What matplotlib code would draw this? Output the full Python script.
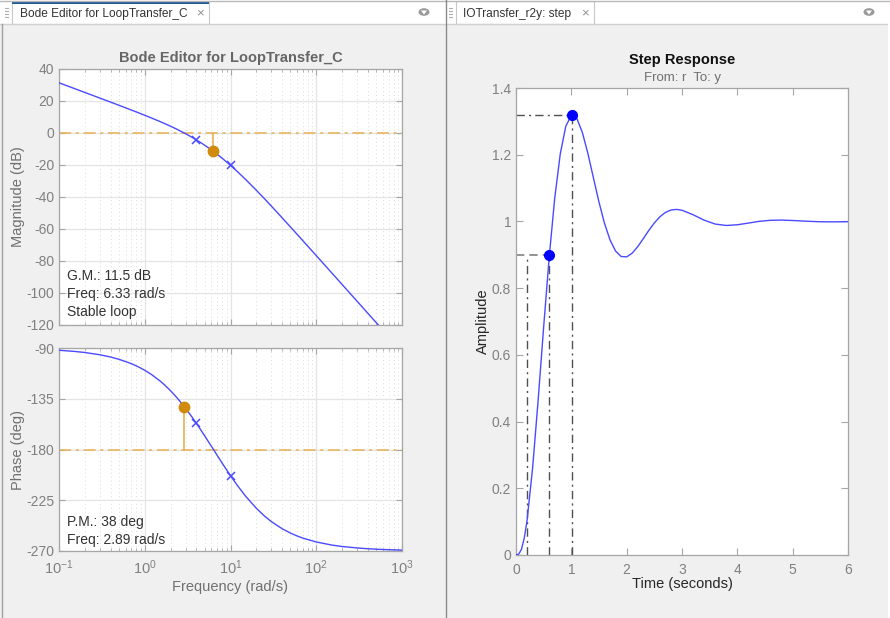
import matplotlib
matplotlib.use("Agg")
import matplotlib.pyplot as plt
from matplotlib.patches import Rectangle, Circle, Polygon
from matplotlib.lines import Line2D

plt.rcParams['font.family'] = ['Liberation Sans', 'DejaVu Sans']
plt.rcParams['axes.unicode_minus'] = False
plt.rcParams['mathtext.fontset'] = 'custom'
plt.rcParams['mathtext.rm'] = 'Liberation Sans'
plt.rcParams['mathtext.it'] = 'Liberation Sans'

# ---------------- data ----------------
bode_freq = [0.1, 0.15, 0.2, 0.3, 0.4, 0.5, 0.7, 0.85, 1, 1.2, 1.5, 1.7, 2, 2.4, 2.89, 3,
             3.5, 4, 4.5, 5, 6, 6.33, 7, 8, 9, 10, 12, 15, 20, 25, 30, 40, 50, 60, 70, 100,
             150, 200, 300, 400, 500, 550, 700, 1000]
bode_mag = [31.38, 27.86, 25.35, 21.82, 19.30, 17.33, 14.33, 12.58, 11.08, 9.37, 7.20, 5.93,
            4.23, 2.21, 0.0, -0.47, -2.46, -4.31, -6.03, -7.65, -10.63, -11.55, -13.34,
            -15.81, -18.10, -20.20, -24.07, -29.03, -35.77, -41.17, -45.71, -53.0, -58.71,
            -63.40, -67.38, -76.62, -87.16, -94.65, -105.2, -112.7, -118.5, -121.0, -127.3,
            -136.6]
bode_phase = [-92.0, -93.0, -94.0, -96.0, -98.0, -100.0, -103.9, -106.86, -109.75, -113.54,
              -119.1, -122.68, -127.9, -134.46, -142.0, -143.57, -150.48, -156.8, -162.6,
              -167.9, -177.27, -180.0, -185.25, -192.1, -198.03, -203.2, -211.76, -221.4,
              -232.1, -239.11, -243.98, -250.25, -254.1, -256.73, -258.6, -262.0, -264.66,
              -266.0, -267.3, -268.0, -268.4, -268.54, -268.85, -269.2]
pole_freq = [4, 10]
pole_mag = [-4.31, -20.2]
pole_phase = [-156.8, -203.2]
gm_freq, gm_mag = 6.33, -11.5
pm_freq, pm_phase = 2.89, -142.0
gm_text = ["G.M.: 11.5 dB", "Freq: 6.33 rad/s", "Stable loop"]
pm_text = ["P.M.: 38 deg", "Freq: 2.89 rad/s"]

step_t = [0, 0.05, 0.1, 0.15, 0.2, 0.3, 0.4, 0.5, 0.6, 0.7, 0.8, 0.9, 1.0, 1.1, 1.2, 1.3,
          1.4, 1.5, 1.6, 1.7, 1.8, 1.9, 2.0, 2.1, 2.2, 2.3, 2.4, 2.5, 2.6, 2.7, 2.8, 2.9,
          3.0, 3.2, 3.4, 3.6, 3.8, 4.0, 4.2, 4.4, 4.6, 4.8, 5.0, 5.25, 5.5, 5.75, 6.0]
step_y = [0, 0.0027, 0.0177, 0.0510, 0.1037, 0.2606, 0.4638, 0.6838, 0.8927, 1.0700,
          1.2024, 1.2854, 1.3180, 1.3087, 1.2663, 1.2032, 1.1300, 1.0578, 0.9940, 0.9442,
          0.9111, 0.8949, 0.8938, 0.9049, 0.9244, 0.9482, 0.9730, 0.9955, 1.0139, 1.0269,
          1.0342, 1.0361, 1.0335, 1.0201, 1.0038, 0.9921, 0.9879, 0.9899, 0.9951, 1.0003,
          1.0034, 1.0040, 1.0028, 1.0006, 0.9990, 0.9987, 0.9992]
peak_t, peak_y = 1.02, 1.32
rise_t0, rise_t1, rise_y = 0.197, 0.604, 0.9

W, H = 890, 618
fig = plt.figure(figsize=(W / 100, H / 100), dpi=100, facecolor='#f0f0f0')


def fx(px):
    return px / W


def fy(py):
    return 1 - py / H


def rect(x0, y0, x1, y1, fc, ec='none', lw=0, z=0):
    fig.patches.append(Rectangle((fx(x0), fy(y1)), fx(x1 - x0), (y1 - y0) / H,
                                 transform=fig.transFigure, facecolor=fc, edgecolor=ec,
                                 linewidth=lw, zorder=z))


def hline(x0, x1, y, c, lw=1):
    fig.add_artist(Line2D([fx(x0), fx(x1)], [fy(y), fy(y)], color=c, lw=lw,
                          transform=fig.transFigure))


def vline(x, y0, y1, c, lw=1):
    fig.add_artist(Line2D([fx(x), fx(x)], [fy(y0), fy(y1)], color=c, lw=lw,
                          transform=fig.transFigure))


# ---------------- window chrome ----------------
rect(0, 0, 890, 24, 'white')
hline(0, 890, 0.8, '#b8b8b8')
hline(0, 890, 23.5, '#d0d0d0')
# left tab
rect(12, 1, 209, 24, 'white', ec='#c8c8c8', lw=0.8)
rect(12, 0.5, 209, 3.5, '#1f5a96')
fig.text(fx(20), fy(13.5), "Bode Editor for LoopTransfer_C", fontsize=8.6, color='#333333',
         va='center', ha='left')
fig.text(fx(200), fy(13.5), "×", fontsize=9.5, color='#909090', va='center', ha='center')
# right tab
rect(456, 1, 594, 24, 'white', ec='#c8c8c8', lw=0.8)
fig.text(fx(463), fy(13.5), "IOTransfer_r2y: step", fontsize=8.6, color='#333333',
         va='center', ha='left')
fig.text(fx(585), fy(13.5), "×", fontsize=9.5, color='#909090', va='center', ha='center')
# grips
for gx in (6, 450):
    for gy in (8, 11, 14, 17):
        hline(gx - 1.5, gx + 1.5, gy, '#b0b0b0', lw=0.8)
# dropdown icons
for cx in (424, 869):
    fig.patches.append(Circle((fx(cx), fy(12)), 5.5 / W, transform=fig.transFigure,
                              facecolor='#9a9a9a', edgecolor='none'))
    fig.patches.append(Polygon([(fx(cx - 3), fy(10.5)), (fx(cx + 3), fy(10.5)),
                                (fx(cx), fy(14.5))], closed=True,
                               transform=fig.transFigure, facecolor='white',
                               edgecolor='none'))
# panel borders
vline(1.5, 24, 618, '#a0a0a0')
vline(445.5, 0, 618, '#8a8a8a')
vline(888.5, 24, 618, '#ffffff', lw=1.5)

# ---------------- styles ----------------
blue = '#4a4aff'
orange_dot = '#d08a0e'
orange_line = '#e8b055'
tick_col = '#808080'
spine_col = '#a6a6a6'


def style_axes(ax, size=10):
    for s in ax.spines.values():
        s.set_color(spine_col)
        s.set_linewidth(0.9)
    ax.tick_params(which='both', direction='in', colors=spine_col, labelcolor=tick_col,
                   labelsize=size, top=True, right=True)
    ax.tick_params(which='major', length=4)
    ax.tick_params(which='minor', length=2)


# ---------------- magnitude ----------------
ax1 = fig.add_axes([fx(59), fy(325), fx(402 - 59), (325 - 69) / H])
ax1.set_xscale('log')
ax1.plot(bode_freq, bode_mag, color=blue, lw=1.0, zorder=3)
ax1.axhline(0, color=orange_line, lw=1.1, ls=(0, (8, 3, 2, 3)), zorder=2)
ax1.plot([gm_freq, gm_freq], [0, gm_mag], color=orange_line, lw=1.2, zorder=2)
ax1.plot([gm_freq], [gm_mag], 'o', color=orange_dot, ms=7.5, zorder=4)
ax1.plot(pole_freq, pole_mag, 'x', color=blue, ms=5.5, mew=1.1, zorder=4)
ax1.set_xlim(0.1, 1000)
ax1.set_ylim(-120, 40)
ax1.set_yticks(range(-120, 41, 20))
ax1.grid(True, which='major', color='#e4e4e4', lw=0.9)
ax1.grid(True, which='minor', axis='x', color='#dcdcdc', lw=0.7, ls=(0, (1, 3)))
style_axes(ax1)
ax1.tick_params(axis='x', which='both', labelbottom=False)
ax1.set_ylabel("Magnitude (dB)", fontsize=10.5, color='#707070')
ax1.yaxis.set_label_coords((25 - 59) / 343, 0.5)
ax1.set_title("Bode Editor for LoopTransfer_C", fontsize=10.5, color='#666666',
              fontweight='bold', pad=5)
for i, s in enumerate(gm_text):
    fig.text(fx(67), fy(276 + i * 18), s, fontsize=10, color='#333333', va='center')

# ---------------- phase ----------------
ax2 = fig.add_axes([fx(59), fy(551), fx(402 - 59), (551 - 348) / H])
ax2.set_xscale('log')
ax2.plot(bode_freq, bode_phase, color=blue, lw=1.0, zorder=3)
ax2.axhline(-180, color=orange_line, lw=1.1, ls=(0, (8, 3, 2, 3)), zorder=2)
ax2.plot([pm_freq, pm_freq], [-180, pm_phase], color=orange_line, lw=1.2, zorder=2)
ax2.plot([pm_freq], [pm_phase], 'o', color=orange_dot, ms=7.5, zorder=4)
ax2.plot(pole_freq, pole_phase, 'x', color=blue, ms=5.5, mew=1.1, zorder=4)
ax2.set_xlim(0.1, 1000)
ax2.set_ylim(-270, -90)
ax2.set_yticks([-270, -225, -180, -135, -90])
ax2.set_xticks([0.1, 1, 10, 100, 1000])
ax2.set_xticklabels([r'$10^{-1}$', r'$10^{0}$', r'$10^{1}$', r'$10^{2}$', r'$10^{3}$'])
ax2.grid(True, which='major', color='#e4e4e4', lw=0.9)
ax2.grid(True, which='minor', axis='x', color='#dcdcdc', lw=0.7, ls=(0, (1, 3)))
style_axes(ax2)
ax2.tick_params(axis='x', which='major', labelsize=10.5, pad=5)
ax2.set_ylabel("Phase (deg)", fontsize=10.5, color='#707070')
ax2.yaxis.set_label_coords((25 - 59) / 343, 0.5)
ax2.set_xlabel("Frequency (rad/s)", fontsize=10.5, color='#707070')
ax2.xaxis.set_label_coords(0.5, (551 - 580) / 203)
for i, s in enumerate(pm_text):
    fig.text(fx(67), fy(522 + i * 18), s, fontsize=10, color='#333333', va='center')

# ---------------- step response ----------------
ax3 = fig.add_axes([fx(516), fy(555), fx(848 - 516), (555 - 88) / H])
ax3.set_facecolor('white')
ax3.plot(step_t, step_y, color=blue, lw=1.0, zorder=3)
dk = '#505050'
ls_dd = (0, (6, 3, 1.5, 3))
ax3.plot([0, peak_t], [peak_y, peak_y], color=dk, lw=1.0, ls=ls_dd, zorder=2)
ax3.plot([peak_t, peak_t], [0, peak_y], color=dk, lw=1.0, ls=ls_dd, zorder=2)
ax3.plot([0, rise_t1], [rise_y, rise_y], color='#808080', lw=1.2, ls=(0, (5, 3)), zorder=2)
ax3.plot([rise_t0, rise_t0], [0, rise_y], color=dk, lw=1.0, ls=ls_dd, zorder=2)
ax3.plot([rise_t1, rise_t1], [0, rise_y], color=dk, lw=1.0, ls=ls_dd, zorder=2)
ax3.plot([peak_t, rise_t1], [peak_y, rise_y], 'o', color='#0000ff', ms=7, zorder=4)
ax3.set_xlim(0, 6)
ax3.set_ylim(0, 1.4)
ax3.set_xticks(range(0, 7))
ax3.set_yticks([0, 0.2, 0.4, 0.6, 0.8, 1.0, 1.2, 1.4])
ax3.set_yticklabels(['0', '0.2', '0.4', '0.6', '0.8', '1', '1.2', '1.4'])
style_axes(ax3)
ax3.tick_params(which='major', length=5)
ax3.tick_params(axis='x', which='major', pad=6)
ax3.set_xlabel("Time (seconds)", fontsize=10.5, color='#262626')
ax3.xaxis.set_label_coords(0.5, (555 - 577) / 467)
ax3.set_ylabel("Amplitude", fontsize=10.5, color='#262626')
ax3.yaxis.set_label_coords((490 - 516) / 332, 0.5)
fig.text(fx(682), fy(60), "Step Response", fontsize=10.5, fontweight='bold',
         color='#111111', ha='center', va='center')
fig.text(fx(682), fy(78), "From: r  To: y", fontsize=9.5, color='#707070',
         ha='center', va='center')

fig.savefig("out.png", dpi=100, facecolor=fig.get_facecolor())
